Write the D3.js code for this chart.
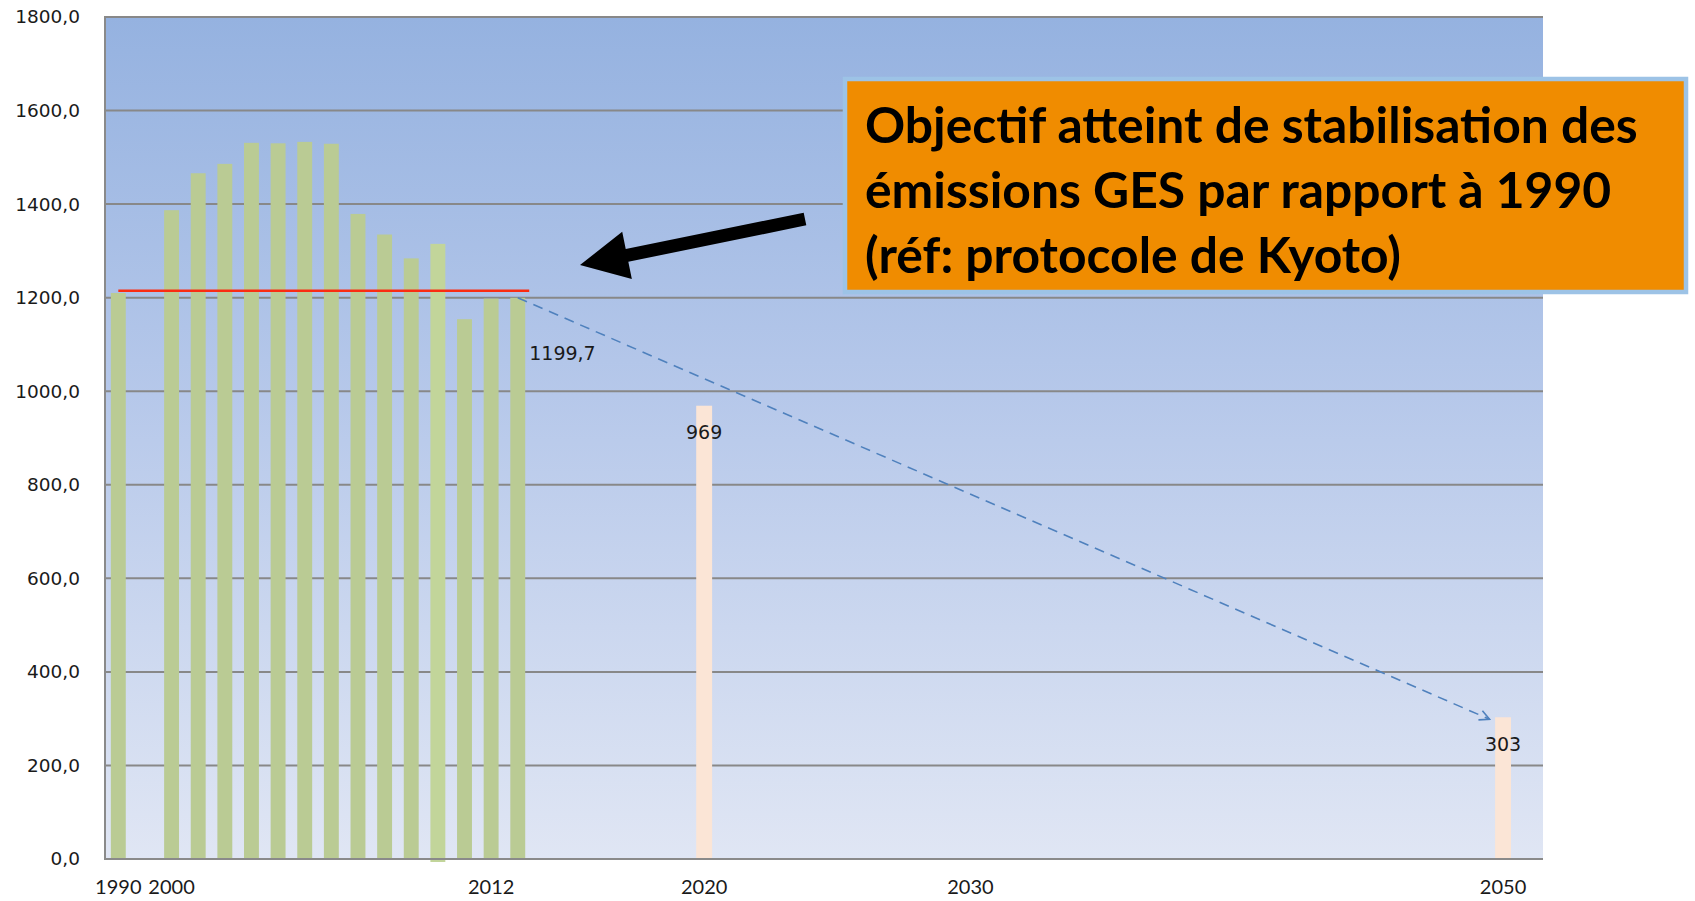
<!DOCTYPE html>
<html>
<head>
<meta charset="utf-8">
<script src="https://cdn.jsdelivr.net/npm/d3@7"></script>
<style>
  html, body { margin: 0; padding: 0; background: #fff; }
  svg { display: block; }
</style>
</head>
<body>
<div id="chart"></div>
<script>
const width = 1695;
const height = 901;

// emissions
const histYears = ["1990", "2000", "2001", "2002", "2003", "2004", "2005", "2006",
  "2007", "2008", "2009", "2010", "2011", "2012", "2013"];
const histValues = [1210, 1387, 1466, 1486, 1531, 1530, 1533, 1529,
  1379, 1335, 1284, 1315, 1154, 1198, 1199.7];
const targetYears = ["2020", "2050"];
const targetValues = [969, 303];
const kyotoLevel = 1215;
const tickYears = ["1990", "2000", "2012", "2020", "2030", "2050"];
const yTicks = [0, 200, 400, 600, 800, 1000, 1200, 1400, 1600, 1800];
const noteLines = [
  "Objectif atteint de stabilisation des",
  "émissions GES par rapport à 1990",
  "(réf: protocole de Kyoto)"
];

// 1990, one empty slot, then every year up to 2051
const categories = ["1990", "-"].concat(d3.range(2000, 2052).map(String));

const plot = { left: 105, top: 17, right: 1543, bottom: 859 };

const svg = d3.select("#chart").append("svg")
  .attr("width", width)
  .attr("height", height)
  .attr("viewBox", [0, 0, width, height]);

const x = d3.scaleBand()
  .domain(categories)
  .range([plot.left, plot.right])
  .paddingInner(0.44)
  .paddingOuter(0.22);

const y = d3.scaleLinear()
  .domain([0, 1800])
  .range([plot.bottom, plot.top]);

// background gradient
const grad = svg.append("defs").append("linearGradient")
  .attr("id", "bg")
  .attr("x1", 0).attr("y1", 0).attr("x2", 0).attr("y2", 1);
grad.append("stop").attr("offset", "0%").attr("stop-color", "#95b2e0");
grad.append("stop").attr("offset", "45%").attr("stop-color", "#b6c8ea");
grad.append("stop").attr("offset", "100%").attr("stop-color", "#e0e6f4");

svg.select("defs").append("marker")
  .attr("id", "openArrow")
  .attr("viewBox", "0 0 12 12")
  .attr("refX", 11).attr("refY", 6)
  .attr("markerWidth", 12).attr("markerHeight", 12)
  .attr("markerUnits", "userSpaceOnUse")
  .attr("orient", "auto")
  .append("path")
  .attr("d", "M1,1 L11,6 L1,11")
  .attr("fill", "none")
  .attr("stroke", "#4f81bd")
  .attr("stroke-width", 1.6);

svg.append("rect")
  .attr("x", plot.left)
  .attr("y", plot.top)
  .attr("width", plot.right - plot.left)
  .attr("height", plot.bottom - plot.top)
  .attr("fill", "url(#bg)");

// gridlines
svg.append("g")
  .selectAll("line")
  .data(yTicks.filter(d => d > 0))
  .join("line")
  .attr("x1", plot.left).attr("x2", plot.right)
  .attr("y1", d => y(d)).attr("y2", d => y(d))
  .attr("stroke", "#888")
  .attr("stroke-width", 2);

// historical bars
svg.append("g")
  .selectAll("rect")
  .data(histYears.map((d, i) => ({ year: d, value: histValues[i] })))
  .join("rect")
  .attr("x", d => x(d.year))
  .attr("y", d => y(d.value))
  .attr("width", x.bandwidth())
  .attr("height", d => y(0) - y(d.value) + (d.year === "2010" ? 3 : 0))
  .attr("fill", d => d.year === "2010" ? "#c2d59a" : "#bacb94");

// target bars
svg.append("g")
  .selectAll("rect")
  .data(targetYears.map((d, i) => ({ year: d, value: targetValues[i] })))
  .join("rect")
  .attr("x", d => x(d.year) - 0.5)
  .attr("y", d => y(d.value))
  .attr("width", x.bandwidth() + 1)
  .attr("height", d => y(0) - y(d.value))
  .attr("fill", "#fbe5d6");

// axes
const fmt = d => d3.format(".1f")(d).replace(".", ",");

const yAxis = svg.append("g")
  .attr("transform", `translate(${plot.left},0)`)
  .call(d3.axisLeft(y).tickValues(yTicks).tickFormat(fmt).tickSize(0).tickPadding(25));
yAxis.select(".domain").remove();
yAxis.selectAll("text")
  .attr("font-family", "'DejaVu Sans', Verdana, sans-serif")
  .attr("font-size", 18.5)
  .attr("fill", "#1a1a1a");

const xAxis = svg.append("g")
  .attr("transform", `translate(0,${plot.bottom})`)
  .call(d3.axisBottom(x).tickValues(tickYears).tickSize(0).tickPadding(21));
xAxis.select(".domain").remove();
xAxis.selectAll("text")
  .attr("font-family", "Lato, 'Open Sans', sans-serif")
  .attr("font-size", 20)
  .attr("fill", "#1a1a1a");

svg.append("line")
  .attr("x1", plot.left).attr("x2", plot.left)
  .attr("y1", plot.top - 1).attr("y2", plot.bottom + 1)
  .attr("stroke", "#8a8a8a").attr("stroke-width", 2);
svg.append("line")
  .attr("x1", plot.left).attr("x2", plot.right)
  .attr("y1", plot.bottom).attr("y2", plot.bottom)
  .attr("stroke", "#8a8a8a").attr("stroke-width", 2);

// kyoto reference line
const lastYear = histYears[histYears.length - 1];
const lastValue = histValues[histValues.length - 1];
svg.append("line")
  .attr("x1", x("1990") + x.bandwidth() / 2)
  .attr("x2", x(lastYear) + x.bandwidth() + 4)
  .attr("y1", y(kyotoLevel)).attr("y2", y(kyotoLevel))
  .attr("stroke", "#fa2c12")
  .attr("stroke-width", 2.5);

// dashed trend arrow
svg.append("line")
  .attr("x1", x(lastYear) + x.bandwidth() / 2)
  .attr("y1", y(lastValue))
  .attr("x2", x("2050") - 6)
  .attr("y2", y(targetValues[1]) + 2)
  .attr("stroke", "#4f81bd")
  .attr("stroke-width", 1.6)
  .attr("stroke-dasharray", "10,7")
  .attr("marker-end", "url(#openArrow)");

// data labels
const labelFont = "'DejaVu Sans', Verdana, sans-serif";
svg.append("text")
  .attr("x", x(lastYear) + x.bandwidth() + 4)
  .attr("y", y(lastValue) + 57)
  .attr("dominant-baseline", "middle")
  .attr("font-family", labelFont)
  .attr("font-size", 19)
  .attr("fill", "#1a1a1a")
  .text(fmt(lastValue));

svg.append("g")
  .selectAll("text")
  .data(targetYears.map((d, i) => ({ year: d, value: targetValues[i] })))
  .join("text")
  .attr("x", d => x(d.year) + x.bandwidth() / 2)
  .attr("y", d => y(d.value) + 28)
  .attr("text-anchor", "middle")
  .attr("dominant-baseline", "middle")
  .attr("font-family", labelFont)
  .attr("font-size", 19)
  .attr("fill", "#1a1a1a")
  .text(d => d.value);

// black arrow pointing at the 1990 level
function blockArrow(tail, tip, shaft, headLen, headW) {
  const dx = tip[0] - tail[0], dy = tip[1] - tail[1];
  const len = Math.hypot(dx, dy);
  const ux = dx / len, uy = dy / len;
  const nx = -uy, ny = ux;
  const bx = tip[0] - ux * headLen, by = tip[1] - uy * headLen;
  const pts = [
    [tail[0] + nx * shaft / 2, tail[1] + ny * shaft / 2],
    [bx + nx * shaft / 2, by + ny * shaft / 2],
    [bx + nx * headW / 2, by + ny * headW / 2],
    tip,
    [bx - nx * headW / 2, by - ny * headW / 2],
    [bx - nx * shaft / 2, by - ny * shaft / 2],
    [tail[0] - nx * shaft / 2, tail[1] - ny * shaft / 2]
  ];
  return "M" + pts.map(p => p.join(",")).join("L") + "Z";
}
svg.append("path")
  .attr("d", blockArrow([805, 219], [580, 265], 13, 48, 48))
  .attr("fill", "#000");

// annotation box
const box = svg.append("g");
box.append("rect")
  .attr("x", 845).attr("y", 79)
  .attr("width", 841).attr("height", 213)
  .attr("fill", "#f08c00")
  .attr("stroke", "#9dc3e6")
  .attr("stroke-width", 4.5);

const note = box.append("text")
  .attr("font-family", "Lato, 'Open Sans', sans-serif")
  .attr("font-weight", "bold")
  .attr("font-size", 50)
  .attr("fill", "#000");
note.selectAll("tspan")
  .data(noteLines)
  .join("tspan")
  .attr("x", 865)
  .attr("y", (d, i) => 143 + i * 65)
  .text(d => d);

// fit first line to the width used in the reference
const w0 = note.select("tspan").node().getComputedTextLength();
note.attr("font-size", 50 * 773 / w0);
</script>
</body>
</html>
